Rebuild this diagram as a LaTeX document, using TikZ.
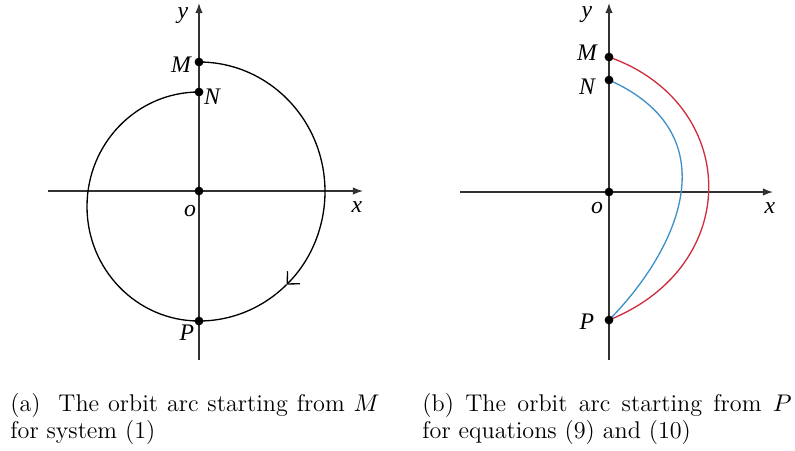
\documentclass[tikz,border=0pt]{standalone}
\usepackage{xcolor}
\usepackage{fontspec}
\usepackage{tikz}
\usetikzlibrary{arrows.meta,backgrounds}
\newfontfamily\labfont{Liberation Serif}
\definecolor{orbRed}{RGB}{206,45,62}
\definecolor{orbBlue}{RGB}{62,145,200}
\definecolor{axGray}{RGB}{50,50,50}

\begin{document}
\begin{tikzpicture}[
  x=0.455pt, y=0.455pt,
  dot/.style={circle, fill=black, inner sep=0pt, minimum size=4pt},
  lab/.style={font=\labfont\itshape\fontsize{10.8}{12}\selectfont, inner sep=0pt},
  axis/.style={-{Latex[length=4.6pt, width=3.4pt]}, line width=0.6pt, color=axGray},
  orbit/.style={line width=0.6pt},
  captext/.style={anchor=base west, text width=168pt, align=justify, inner sep=0pt,
    font=\fontsize{11}{12.2}\selectfont},
]
\useasboundingbox (0,0) rectangle (795,-450);

%% Panel (a) — points
\node[dot] (O1) at (199,-191) {};
\node[dot] (M1) at (199,-62)  {};
\node[dot] (N1) at (199,-92)  {};
\node[dot] (P1) at (199,-321) {};
\coordinate (xl1) at (48,-191);
\coordinate (xr1) at (363,-191);
\coordinate (yb1) at (199,-360);
\coordinate (yt1) at (199,-3);

%% Panel (a) — labels
\node[lab] at (183,-16)  {y};
\node[lab] at (181,-65)  {M};
\node[lab] at (212,-97)  {N};
\node[lab] at (190,-211) {o};
\node[lab] at (357,-207) {x};
\node[lab] at (187,-333) {P};

%% Panel (b) — points
\node[dot] (O2) at (609,-192) {};
\node[dot] (M2) at (609,-57)  {};
\node[dot] (N2) at (609,-80)  {};
\node[dot] (P2) at (609,-320) {};
\coordinate (xl2) at (460,-192);
\coordinate (xr2) at (773,-192);
\coordinate (yb2) at (609,-360);
\coordinate (yt2) at (609,-3);

%% Panel (b) — labels
\node[lab] at (587,-15)  {y};
\node[lab] at (587,-53)  {M};
\node[lab] at (587,-87)  {N};
\node[lab] at (597,-208) {o};
\node[lab] at (770,-208) {x};
\node[lab] at (587,-322) {P};

%% ── Axes and orbits ───────────────────────────────────────────────────────
\begin{scope}[on background layer]
  \draw[axis] (xl1) -- (xr1);
  \draw[axis] (yb1) -- (yt1);
  \draw[axis] (xl2) -- (xr2);
  \draw[axis] (yb2) -- (yt2);

  % orbit from M, clockwise
  \draw[orbit, -{Straight Barb[length=4.2pt, width=8pt]}] (M1.center)
    arc[start angle=90, end angle=-46, x radius=126, y radius=129.5] coordinate (arr1);
  \draw[orbit] (arr1) arc[start angle=-46, end angle=-90, x radius=126, y radius=129.5];
  \draw[orbit] (P1.center) arc[start angle=-90, end angle=-270, x radius=112, y radius=114.5];

  % orbit arcs from P
  \draw[orbit, orbRed] (M2.center) .. controls (739,-103) and (745,-265) .. (P2.center);
  \draw[orbit, orbBlue] (N2.center) .. controls (730,-134) and (680,-248) .. (P2.center);
\end{scope}

%% Captions
\node[captext] (capa) at (10,-411.5) {(a)\ \ The orbit arc starting from $M$\linebreak for system (1)};
\node[captext] (capb) at (422,-411.5) {(b) The orbit arc starting from $P$\linebreak for equations (9) and (10)};

\end{tikzpicture}
\end{document}
